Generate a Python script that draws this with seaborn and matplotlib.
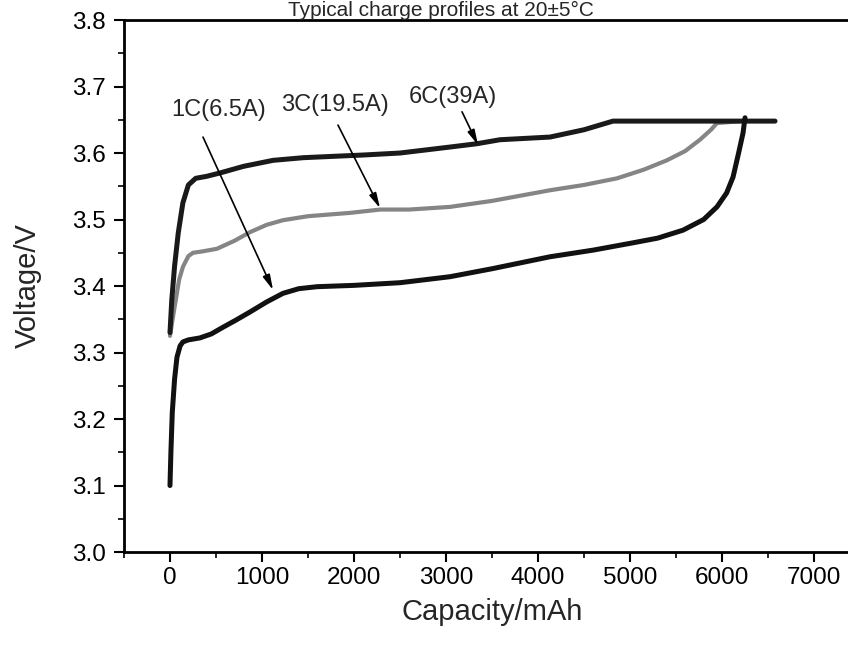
import numpy as np
import pandas as pd
import matplotlib
matplotlib.use("Agg")
import matplotlib.pyplot as plt
from matplotlib.ticker import MultipleLocator
import seaborn as sns

# ---- data ----
cap_6c = [0, 20, 50, 90, 140, 200, 280, 400, 543, 800, 1120, 1450, 1772, 2100, 2500,
          3043, 3337, 3587, 4130, 4500, 4815, 5500, 6200, 6576]
v_6c = [3.33, 3.38, 3.43, 3.48, 3.525, 3.552, 3.562, 3.565, 3.570, 3.580, 3.589, 3.593,
        3.595, 3.597, 3.600, 3.609, 3.614, 3.620, 3.624, 3.635, 3.648, 3.648, 3.648, 3.648]

cap_3c = [0, 40, 100, 141, 200, 250, 350, 510, 700, 870, 1050, 1228, 1500, 1957, 2283,
          2600, 3043, 3500, 4130, 4500, 4860, 5150, 5400, 5600, 5760, 5880, 5945, 6200]
v_3c = [3.325, 3.36, 3.41, 3.429, 3.445, 3.45, 3.452, 3.456, 3.468, 3.481, 3.492, 3.499,
        3.505, 3.51, 3.515, 3.515, 3.519, 3.528, 3.544, 3.552, 3.562, 3.575, 3.589, 3.603,
        3.620, 3.635, 3.645, 3.648]

cap_1c = [0, 10, 25, 50, 76, 110, 141, 200, 326, 450, 576, 720, 870, 1050, 1228, 1400,
          1598, 2000, 2500, 3043, 3500, 4130, 4600, 5033, 5300, 5576, 5800, 5945, 6050,
          6120, 6180, 6228, 6250]
v_1c = [3.10, 3.15, 3.21, 3.26, 3.293, 3.31, 3.316, 3.319, 3.322, 3.328, 3.338, 3.349,
        3.361, 3.376, 3.389, 3.396, 3.399, 3.401, 3.405, 3.414, 3.426, 3.444, 3.454, 3.465,
        3.472, 3.484, 3.500, 3.519, 3.540, 3.564, 3.600, 3.630, 3.653]

labels = ["1C(6.5A)", "3C(19.5A)", "6C(39A)"]
label_xy = [(533, 3.665), (1793, 3.672), (3076, 3.684)]
arrow_tip = [(1120, 3.394), (2283, 3.517), (3348, 3.612)]
arrow_tail = [(359, 3.624), (1826, 3.642), (3174, 3.662)]

title = "Typical charge profiles at 20\u00b15\u00b0C"
xlabel = "Capacity/mAh"
ylabel = "Voltage/V"

# ---- plotting ----
sns.set_style("ticks")
plt.rcParams['font.family'] = ['Liberation Sans', 'DejaVu Sans']

fig = plt.figure(figsize=(8.48, 6.48), dpi=100)
ax = fig.add_axes([0.1462, 0.1481, 0.868, 0.821])

df1 = pd.DataFrame({"x": cap_1c, "y": v_1c})
df3 = pd.DataFrame({"x": cap_3c, "y": v_3c})
df6 = pd.DataFrame({"x": cap_6c, "y": v_6c})

sns.lineplot(data=df3, x="x", y="y", ax=ax, color="#858585", lw=3.0, sort=False, estimator=None)
sns.lineplot(data=df6, x="x", y="y", ax=ax, color="#1a1a1a", lw=3.6, sort=False, estimator=None)
sns.lineplot(data=df1, x="x", y="y", ax=ax, color="#111111", lw=3.6, sort=False, estimator=None)

for lab, lxy, tip, tail in zip(labels, label_xy, arrow_tip, arrow_tail):
    ax.text(lxy[0], lxy[1], lab, ha="center", va="center", fontsize=17)
    ax.annotate("", xy=tip, xytext=tail,
                arrowprops=dict(arrowstyle="-|>,head_length=0.9,head_width=0.22",
                                color="black", lw=1.2, shrinkA=0, shrinkB=0))

ax.set_xlim(-500, 7500)
ax.set_ylim(3.0, 3.8)
ax.xaxis.set_major_locator(MultipleLocator(1000))
ax.xaxis.set_minor_locator(MultipleLocator(500))
ax.yaxis.set_major_locator(MultipleLocator(0.1))
ax.yaxis.set_minor_locator(MultipleLocator(0.05))
ax.set_xticks(np.arange(0, 7001, 1000))
ax.set_xticklabels([str(v) for v in range(0, 7001, 1000)])
ax.tick_params(axis="both", which="major", direction="out", length=7, width=1.5,
               labelsize=17.5, color="black", labelcolor="black", pad=6)
ax.tick_params(axis="both", which="minor", direction="out", length=4, width=1.2,
               color="black")
ax.tick_params(axis="x", which="major", pad=4)
for s in ["left", "bottom", "top", "right"]:
    ax.spines[s].set_visible(True)
    ax.spines[s].set_linewidth(2.0)
    ax.spines[s].set_color("black")

ax.set_xlabel(xlabel, fontsize=21, labelpad=6)
ax.set_ylabel(ylabel, fontsize=21, labelpad=22)

fig.text(441 / 848, 0.999, title, ha="center", va="top", fontsize=15)

fig.savefig("out.png", dpi=100)
